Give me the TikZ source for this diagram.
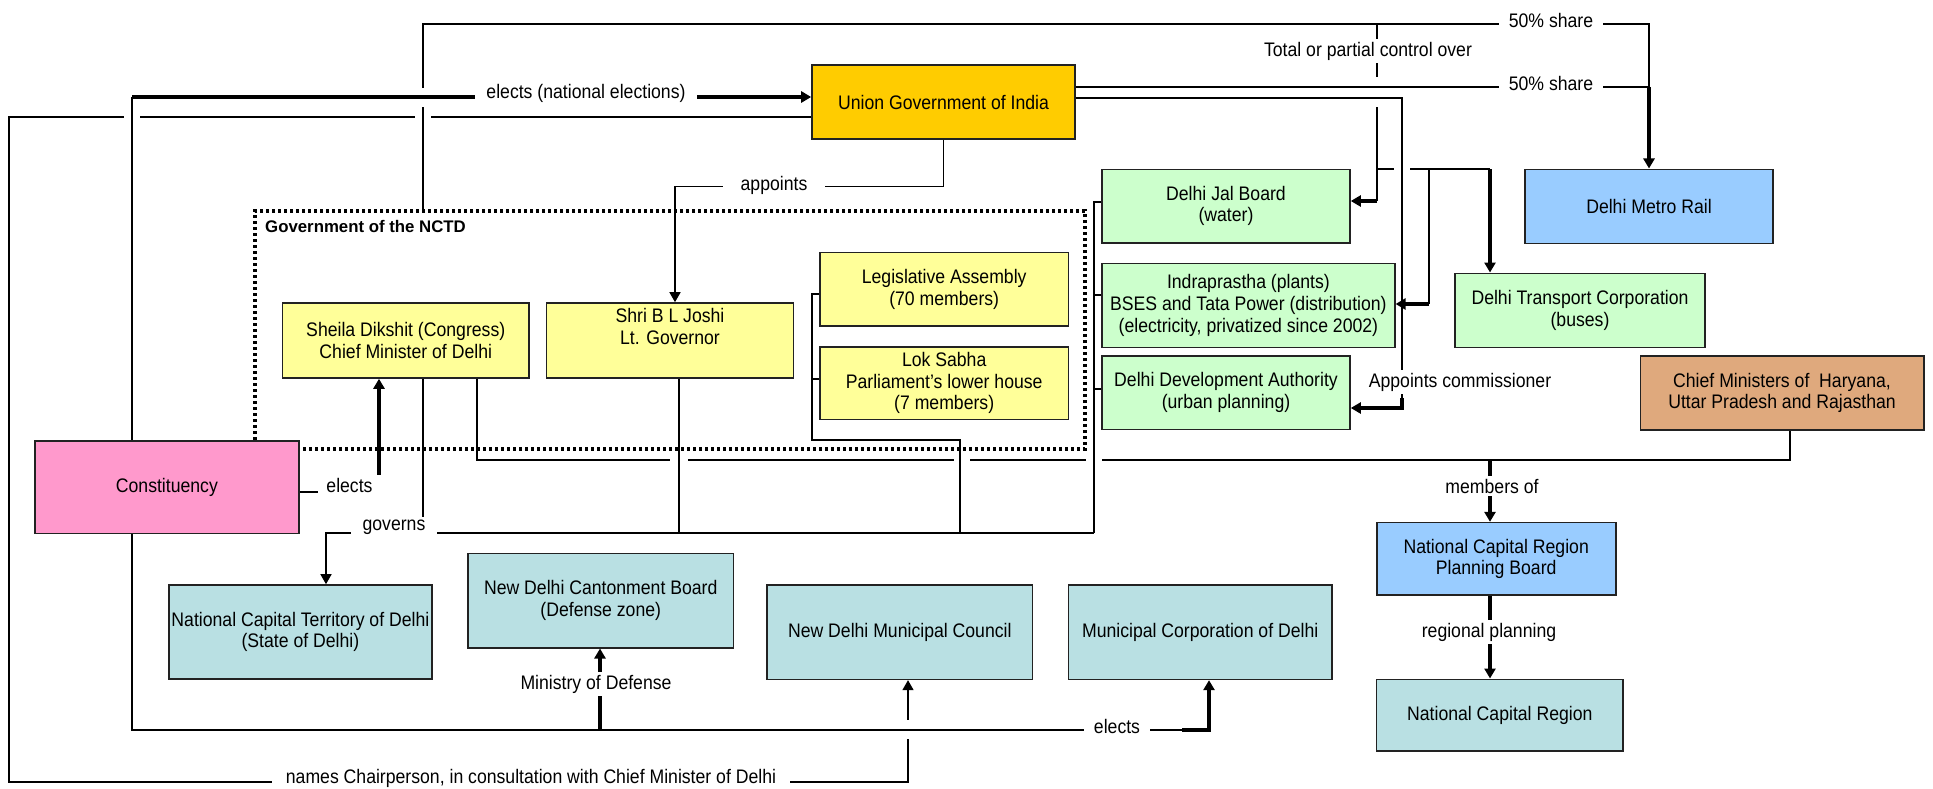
\documentclass[tikz,border=0pt]{standalone}
\usepackage{fontspec}
\setmainfont{Liberation Sans}[FakeStretch=0.9]
\newfontfamily\titlefam{Liberation Sans}
\usetikzlibrary{arrows.meta}
\definecolor{cUnion}{HTML}{FFCC00}
\definecolor{cYellow}{HTML}{FFFF99}
\definecolor{cGreen}{HTML}{CCFFCC}
\definecolor{cBlue}{HTML}{99CCFF}
\definecolor{cTeal}{HTML}{B9E0E3}
\definecolor{cPink}{HTML}{FF99CC}
\definecolor{cTan}{HTML}{DFA97D}
\definecolor{cEdge}{HTML}{222222}
\newcommand\dfont{\fontsize{19.6pt}{21.7pt}\selectfont}
\newcommand\tfont{\titlefam\fontsize{16.8pt}{19pt}\selectfont\bfseries}
\begin{document}
\begin{tikzpicture}[x=1pt,y=-1pt,
  box/.style={draw=cEdge, line width=1.6pt, align=center, inner sep=0pt, font=\dfont},
  conn/.style={line width=1.5pt},
  thk/.style={line width=3.5pt},
  arr/.style={-{Triangle[length=10pt,width=11pt]}},
  lbl/.style={fill=white, inner xsep=10pt, inner ysep=3pt, font=\dfont},
  gapfill/.style={fill=white}
  ]
\useasboundingbox (0,0) rectangle (1933,789);
\fill[white] (0,0) rectangle (1933,789);

% dotted government frame
\node[draw=black, line width=3.2pt, dash pattern=on 3pt off 3pt, minimum width=830pt, minimum height=238pt, inner sep=0pt] (nctd) at (670,330) {};
\node[anchor=west, font=\tfont, inner sep=0pt] (nctdlbl) at (265,226) {Government of the NCTD};

% boxes
\node[box, fill=cUnion, minimum width=263pt, minimum height=74pt] (union) at (943.5,102) {Union Government of India};
\node[box, fill=cYellow, minimum width=246.5pt, minimum height=75pt] (sheila) at (405.75,340.5) {Sheila Dikshit (Congress)\\Chief Minister of Delhi};
\node[box, fill=cYellow, minimum width=247pt, minimum height=75pt] (joshi) at (670,340.5) {Shri B L Joshi\\Lt. Governor\\\strut};
\node[box, fill=cYellow, minimum width=248.4pt, minimum height=73.7pt] (la) at (944.2,289.2) {Legislative Assembly\\(70 members)};
\node[box, fill=cYellow, minimum width=248.4pt, minimum height=72.6pt] (ls) at (944.2,383) {Lok Sabha\\Parliament's lower house\\(7 members)};
\node[box, fill=cGreen, minimum width=248pt, minimum height=73.4pt] (jal) at (1226,206) {Delhi Jal Board\\(water)};
\node[box, fill=cGreen, minimum width=292.8pt, minimum height=84pt] (indra) at (1248.4,305.3) {Indraprastha (plants)\\BSES and Tata Power (distribution)\\(electricity, privatized since 2002)};
\node[box, fill=cGreen, minimum width=248pt, minimum height=73.3pt] (dda) at (1226,392.7) {Delhi Development Authority\\(urban planning)};
\node[box, fill=cGreen, minimum width=250pt, minimum height=74pt] (dtc) at (1580,310.3) {Delhi Transport Corporation\\(buses)};
\node[box, fill=cBlue, minimum width=248pt, minimum height=74pt] (metro) at (1649,206.3) {Delhi Metro Rail};
\node[box, fill=cTan, minimum width=283.4pt, minimum height=74pt] (cm) at (1782,393) {Chief Ministers of~ Haryana,\\Uttar Pradesh and Rajasthan};
\node[box, fill=cBlue, minimum width=239pt, minimum height=72.3pt] (ncrpb) at (1496.2,558.8) {National Capital Region\\Planning Board};
\node[box, fill=cTeal, minimum width=246.3pt, minimum height=71.4pt] (ncr) at (1499.8,715) {National Capital Region};
\node[box, fill=cPink, minimum width=264.2pt, minimum height=92.6pt] (const) at (166.9,487) {Constituency};
\node[box, fill=cTeal, minimum width=263.25pt, minimum height=94pt] (nct) at (300.4,632) {National Capital Territory of Delhi\\(State of Delhi)};
\node[box, fill=cTeal, minimum width=265.5pt, minimum height=94.4pt] (ndcb) at (600.75,600.5) {New Delhi Cantonment Board\\(Defense zone)};
\node[box, fill=cTeal, minimum width=265.6pt, minimum height=94.3pt] (ndmc) at (899.8,632.2) {New Delhi Municipal Council};
\node[box, fill=cTeal, minimum width=263.7pt, minimum height=94.3pt] (mcd) at (1200.2,632.2) {Municipal Corporation of Delhi};

% junction coordinates
\coordinate (en1) at (132,97);
\coordinate (nc1) at (9,117);
\coordinate (nc2) at (9,782);
\coordinate (nc3) at (908,782);
\coordinate (ms1) at (423,24);
\coordinate (ms2) at (1649,24);
\coordinate (ms3) at (1649,87);
\coordinate (us1) at (0,87);
\coordinate (tp1) at (1377,24);
\coordinate (tp2) at (1377,169);
\coordinate (tp3) at (1377,201);
\coordinate (tp4) at (1490,169);
\coordinate (tp5) at (1429,169);
\coordinate (tp6) at (1429,304);
\coordinate (ac1) at (1402,98);
\coordinate (ac2) at (1402,398);
\coordinate (ac3) at (1402,408);
\coordinate (ap1) at (943.5,186.7);
\coordinate (ap2) at (675,186.7);
\coordinate (el1) at (379,492);
\coordinate (gv1) at (423,533);
\coordinate (gv2) at (326,533);
\coordinate (gv3) at (1094,533);
\coordinate (gv4) at (679,533);
\coordinate (lb1) at (812,294);
\coordinate (lb2) at (812,379);
\coordinate (lb3) at (812,440);
\coordinate (lb4) at (960,440);
\coordinate (lb5) at (960,533);
\coordinate (gb1) at (1094,202);
\coordinate (gb2) at (1094,295);
\coordinate (gb3) at (1094,389);
\coordinate (mb1) at (477,460);
\coordinate (mb2) at (1790,460);
\coordinate (mb3) at (1490,460);
\coordinate (be1) at (132,730);
\coordinate (be2) at (1209,730);
\coordinate (be3) at (600,730);
\coordinate (be4) at (1182,730);

% elects (national elections)
\draw[conn] (const.north -| en1) -- (en1);
\draw[thk, arr] (en1) -- (union.west |- en1);
% names chairperson
\draw[conn, arr] (union.west |- nc1) -- (nc1) -- (nc2) -- (nc3) -- (ndmc.south -| nc3);
% 50% share (NCTD)
\draw[conn] (nctd.north -| ms1) -- (ms1) -- (ms2) -- (ms3);
\draw[thk, arr] (ms3) -- (metro.north -| ms3);
% 50% share (Union)
\draw[conn] (union.east |- us1) -- (ms3);
% total or partial control
\draw[conn] (tp1) -- (tp3);
\draw[thk, arr] (tp3) -- (jal.east |- tp3);
\draw[conn] (tp2) -- (tp4);
\draw[thk, arr] (tp4) -- (dtc.north -| tp4);
\draw[conn] (tp5) -- (tp6);
\draw[thk, arr] (tp6) -- (indra.east |- tp6);
% appoints commissioner
\draw[conn] (union.east |- ac1) -- (ac1) -- (ac2);
\draw[thk, arr] (ac2) -- (ac3) -- (dda.east |- ac3);
% appoints
\draw[conn, arr] (union.south) -- (ap1) -- (ap2) -- (joshi.north -| ap2);
% elects chief minister
\draw[conn] (const.east |- el1) -- (el1);
\draw[thk, arr] (el1) -- (sheila.south -| el1);
% governs
\draw[conn, arr] (sheila.south -| gv1) -- (gv1) -- (gv2) -- (nct.north -| gv2);
\draw[conn] (gv3) -- (gv1);
\draw[conn] (joshi.south -| gv4) -- (gv4);
\draw[conn] (la.west |- lb1) -- (lb1) -- (lb3) -- (lb4) -- (lb5);
\draw[conn] (ls.west |- lb2) -- (lb2);
\draw[conn] (jal.west |- gb1) -- (gb1) -- (gv3);
\draw[conn] (indra.west |- gb2) -- (gb2);
\draw[conn] (dda.west |- gb3) -- (gb3);
% members of
\draw[conn] (sheila.south -| mb1) -- (mb1) -- (mb2) -- (cm.south -| mb2);
\draw[thk, arr] (mb3) -- (ncrpb.north -| mb3);
% regional planning
\draw[thk, arr] (ncrpb.south -| mb3) -- (ncr.north -| mb3);
% local elects
\draw[conn] (const.south -| be1) -- (be1) -- (be4);
\draw[thk, arr] (be4) -- (be2) -- (mcd.south -| be2);
\draw[thk, arr] (be3) -- (ndcb.south -| be3);

% crossing gaps
\fill[gapfill] (418,88) rectangle (428,107); \draw[thk] (412,97) -- (434,97);
\fill[gapfill] (124,113) rectangle (140,121); \draw[conn] (132,108) -- (132,126);
\fill[gapfill] (415,113) rectangle (431,121); \draw[conn] (423,108) -- (423,126);
\fill[gapfill] (1373,77) rectangle (1381,107); \draw[conn] (1365,87) -- (1389,87) (1365,98) -- (1389,98);
\fill[gapfill] (1394,166) rectangle (1410,172); \draw[conn] (1402,160) -- (1402,178);
\fill[gapfill] (670,457) rectangle (688,463); \draw[conn] (679,451) -- (679,470);
\fill[gapfill] (954,457) rectangle (970,463); \draw[conn] (960,451) -- (960,470);
\fill[gapfill] (1086,457) rectangle (1102,463); \draw[conn] (1094,451) -- (1094,470);
\fill[gapfill] (904,720) rectangle (912,739); \draw[conn] (898,730) -- (918,730);

% labels
\node[lbl, inner xsep=11pt] (l1) at (586,93) {elects (national elections)};
\node[lbl, inner xsep=14pt] (l2) at (531,778) {names Chairperson, in consultation with Chief Minister of Delhi};
\node[lbl] (l3) at (1551,20) {50\% share};
\node[lbl] (l4) at (1551,83) {50\% share};
\node[lbl] (l5) at (1368,51) {Total or partial control over};
\node[lbl, inner xsep=3pt] (l6) at (1460,382) {Appoints commissioner};
\node[lbl, inner xsep=18pt] (l7) at (774,185) {appoints};
\node[lbl, inner xsep=8pt] (l8) at (349.5,485) {elects};
\node[lbl, inner xsep=12pt] (l9) at (394,527) {governs};
\node[lbl] (l10) at (1492,486) {members of};
\node[lbl] (l11) at (1489,632) {regional planning};
\node[lbl] (l12) at (596,684) {Ministry of Defense};
\node[lbl] (l13) at (1117,726) {elects};
\end{tikzpicture}
\end{document}
